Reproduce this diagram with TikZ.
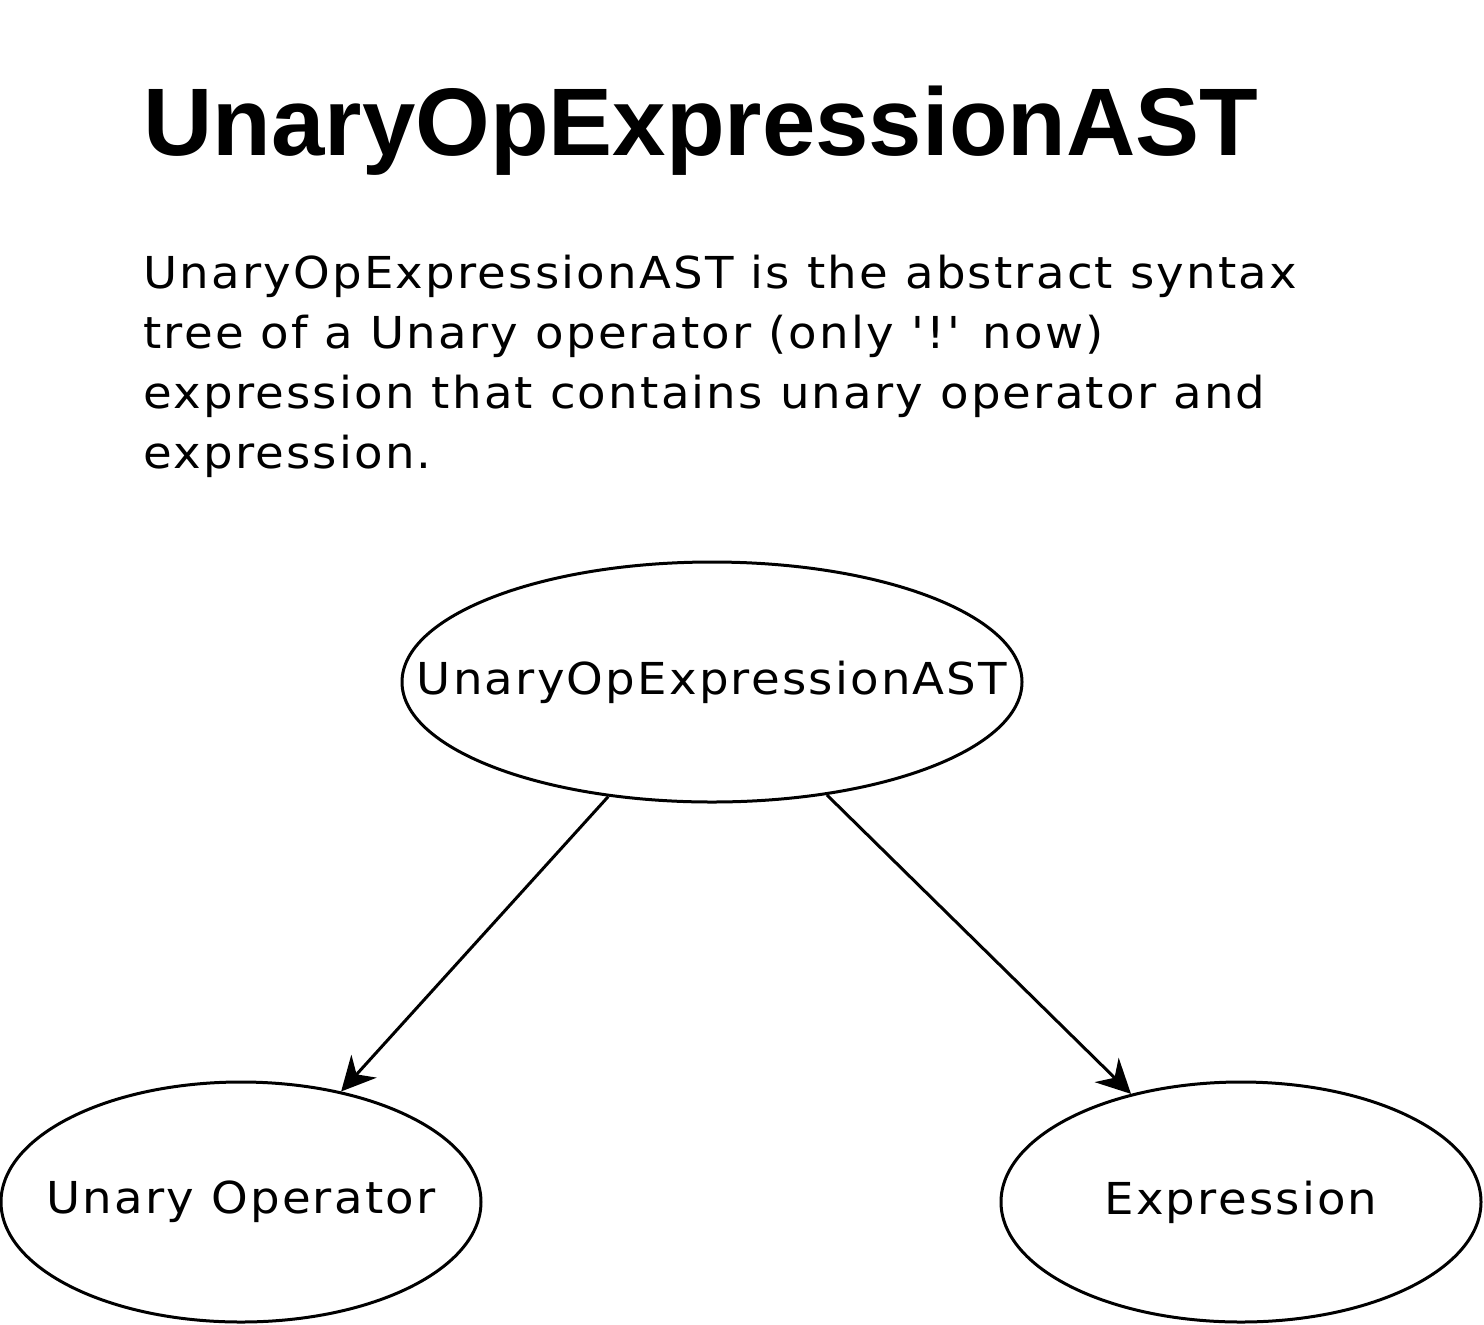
\documentclass[tikz,border=0pt]{standalone}
\usepackage{fontspec}
\setmainfont{DejaVu Sans}[FakeStretch=1.06,LetterSpace=5,Ligatures=TeXOff]
\newfontfamily\titlefont{Liberation Sans}
\usetikzlibrary{arrows.meta,shapes.geometric}
\tikzset{
  oval/.style={ellipse,draw,line width=1.5pt,inner sep=0pt,font=\fontsize{22}{26}\selectfont},
  link/.style={line width=1.5pt,-{Stealth[length=17pt,width=17pt,inset=5.5pt]}}
}
\begin{document}
\begin{tikzpicture}[x=0.5pt,y=-0.5pt]
\useasboundingbox (0,0) rectangle (1484,1324);
\node[anchor=base west,inner sep=0pt,font=\titlefont\bfseries\fontsize{48}{56}\selectfont] (title) at (143,155) {UnaryOpExpressionAST};
\node[anchor=base west,inner sep=0pt,align=left,font=\fontsize{22}{30}\selectfont] (desc) at (143,468) {UnaryOpExpressionAST is the abstract syntax\\tree of a Unary operator (only '!' now)\\expression that contains unary operator and\\expression.};
\node[oval,minimum width=310pt,minimum height=120pt] (top) at (712,682) {\makebox[0pt]{UnaryOpExpressionAST}};
\node[oval,minimum width=240pt,minimum height=120pt] (left) at (241,1202) {\makebox[0pt]{Unary Operator}};
\node[oval,minimum width=240pt,minimum height=120pt] (right) at (1241,1202) {\makebox[0pt]{Expression}};
\draw[link] (top) -- (left);
\draw[link] (top) -- (right);
\end{tikzpicture}
\end{document}
